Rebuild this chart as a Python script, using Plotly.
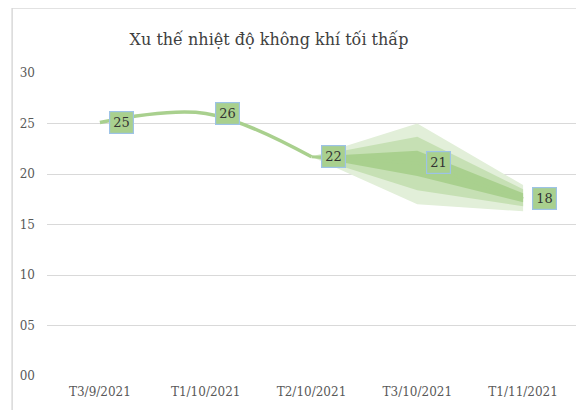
import plotly.graph_objects as go

# ---- data ----
categories = ["T3/9/2021", "T1/10/2021", "T2/10/2021", "T3/10/2021", "T1/11/2021"]
observed_idx = [0, 1, 2]
observed_vals = [25.1, 26.0, 21.7]
forecast_idx = [2, 3, 4]
forecast_vals = [21.7, 21.1, 17.55]
label_vals = [25.1, 26.0, 21.7, 21.1, 17.55]

outer_upper = [21.7, 25.0, 18.9]
outer_lower = [21.7, 17.0, 16.3]
mid_upper = [21.7, 23.7, 18.5]
mid_lower = [21.7, 18.4, 16.8]
inner_upper = [21.7, 22.3, 18.1]
inner_lower = [21.7, 19.8, 17.2]

y_ticks = [0, 5, 10, 15, 20, 25, 30]
y_ticktext = ["00", "05", "10", "15", "20", "25", "30"]

# ---- styles ----
OFF = 8  # page body margin
W, H = 584, 410
L, R, T, B = 45 - OFF, 16, 73 - OFF, 42
GREEN = "#a9d08e"
SERIF = "DejaVu Serif"

fig = go.Figure()

def band(upper, lower, color):
    xs = forecast_idx + forecast_idx[::-1]
    ys = upper + lower[::-1]
    fig.add_trace(go.Scatter(x=xs, y=ys, fill="toself", fillcolor=color,
                             line=dict(width=0, color=color), mode="lines",
                             hoverinfo="skip", showlegend=False))

band(outer_upper, outer_lower, "#e2efd9")
band(mid_upper, mid_lower, "#c6e0b4")
band(inner_upper, inner_lower, "#a9d08e")

fig.add_trace(go.Scatter(x=forecast_idx, y=forecast_vals, mode="lines",
                         line=dict(color=GREEN, width=3), showlegend=False))
fig.add_trace(go.Scatter(x=observed_idx, y=observed_vals, mode="lines",
                         line=dict(color=GREEN, width=3.5, shape="spline", smoothing=1.0),
                         showlegend=False))

for i, v in enumerate(label_vals):
    fig.add_annotation(x=i, y=v, text=f"{v:.0f}", showarrow=False,
                       xanchor="left", yanchor="middle", xshift=9,
                       font=dict(family=SERIF, size=13, color="#333333"),
                       bgcolor=GREEN, bordercolor="#9dc3e6", borderwidth=1.2, borderpad=3)

# outer chart frame
pw = W - L - R
ph = H - T - B
def px_x(p):
    return (p - OFF - L) / pw
def px_y(p):
    return (H - B - (p - OFF)) / ph
fig.add_shape(type="rect", xref="paper", yref="paper",
              x0=px_x(10), x1=px_x(W + 30), y0=px_y(H + 30), y1=px_y(8),
              line=dict(color="#d9d9d9", width=1.5), fillcolor="rgba(0,0,0,0)", layer="below")

fig.update_layout(
    width=W, height=H,
    margin=dict(l=L, r=R, t=T, b=B),
    paper_bgcolor="white", plot_bgcolor="white",
    font=dict(family=SERIF),
    title=dict(text="Xu thế nhiệt độ không khí tối thấp", x=(269 - OFF) / W, xanchor="center",
               y=1 - (39 - OFF) / H, yanchor="middle",
               font=dict(family=SERIF, size=16, color="#404040")),
    xaxis=dict(range=[-0.5, 4.5], tickmode="array", tickvals=list(range(len(categories))),
               ticktext=categories, showgrid=False, zeroline=False, showline=False,
               ticks="", ticklabelstandoff=7,
               tickfont=dict(family=SERIF, size=12, color="#595959")),
    yaxis=dict(range=[0, 30], tickmode="array", tickvals=y_ticks, ticktext=y_ticktext,
               showgrid=True, gridcolor="#d9d9d9", gridwidth=1, zeroline=False,
               showline=False, ticks="", ticklabelstandoff=11,
               tickfont=dict(family=SERIF, size=12, color="#595959")),
    showlegend=False,
)

fig.write_html("out.html")
